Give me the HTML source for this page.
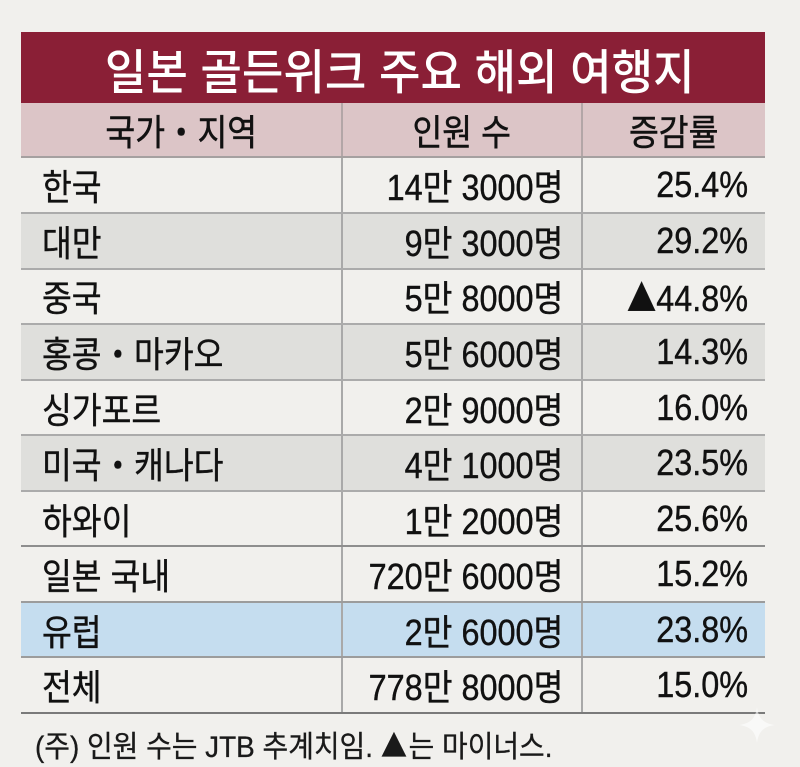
<!DOCTYPE html>
<html>
<head>
<meta charset="utf-8">
<style>
  html,body{margin:0;padding:0;}
  body{width:800px;height:767px;background:#f1f0ed;position:relative;overflow:hidden;
       font-family:"Liberation Sans","Noto Sans CJK KR",sans-serif;color:#111;}
  .abs{position:absolute;}
  .title{left:21px;top:32px;width:744px;height:71px;background:#8a1f36;}
  .title-txt{left:0;top:32px;width:800px;height:71px;display:flex;align-items:center;justify-content:center;
       color:#fff;font-size:48px;font-weight:500;}
  .title-txt span{display:inline-block;transform:scaleX(0.94);transform-origin:center;white-space:nowrap;}
  .hdr{left:21px;top:103px;width:744px;height:54px;background:#dcc5c7;}
  .hcell{top:103px;height:54px;display:flex;align-items:center;justify-content:center;font-size:36px;-webkit-text-stroke:0.5px #111;}
  .hcell span{display:inline-block;transform:scaleX(0.9);transform-origin:center;white-space:nowrap;}
  .row{left:21px;width:744px;height:56px;}
  .cell{height:56px;display:flex;align-items:center;font-size:36px;white-space:nowrap;-webkit-text-stroke:0.4px #111;}
  .c1{left:42px;width:290px;justify-content:flex-start;}
  .c1 span{display:inline-block;transform:scaleX(0.9);transform-origin:left center;}
  .c2{left:342px;width:221px;justify-content:flex-end;}
  .c3{left:582px;width:166px;justify-content:flex-end;}
  .c2 span,.c3 span{display:inline-block;transform:scaleX(0.9);transform-origin:right center;}
  .tri{font-family:"Noto Sans CJK KR",sans-serif;}
  .hl{left:21px;width:744px;height:2px;background:#ababab;}
  .vl{width:1.5px;background:#a9a9a9;}
  .note{left:35px;top:724px;height:40px;display:flex;align-items:center;font-size:30px;color:#1a1a1a;white-space:nowrap;-webkit-text-stroke:0.3px #1a1a1a;}
  .note span{display:inline-block;transform:scaleX(0.93);transform-origin:left center;}
</style>
</head>
<body>
  <div class="abs title"></div>
  <div class="abs title-txt"><span>일본 골든위크 주요 해외 여행지</span></div>
  <div class="abs hdr"></div>

  <!-- row backgrounds -->
  <div class="abs row" style="top:213px;background:#dfdfdc;"></div>
  <div class="abs row" style="top:324px;background:#dfdfdc;"></div>
  <div class="abs row" style="top:435px;background:#dfdfdc;"></div>
  <div class="abs row" style="top:602px;height:55px;background:#c5ddef;"></div>

  <!-- vertical lines -->
  <div class="abs vl" style="left:341px;top:103px;height:610px;background:#b3a6a7;"></div>
  <div class="abs vl" style="left:581px;top:103px;height:610px;background:#b3a6a7;"></div>
  <div class="abs vl" style="left:341px;top:157px;height:556px;"></div>
  <div class="abs vl" style="left:581px;top:157px;height:556px;"></div>

  <!-- horizontal lines -->
  <div class="abs hl" style="top:156px;background:#a5a0a0;"></div>
  <div class="abs hl" style="top:212px;"></div>
  <div class="abs hl" style="top:268px;"></div>
  <div class="abs hl" style="top:323px;"></div>
  <div class="abs hl" style="top:379px;"></div>
  <div class="abs hl" style="top:434px;"></div>
  <div class="abs hl" style="top:490px;"></div>
  <div class="abs hl" style="top:545px;background:#8e8e8e;"></div>
  <div class="abs hl" style="top:601px;background:#9c9c9c;"></div>
  <div class="abs hl" style="top:656px;background:#9c9c9c;"></div>
  <div class="abs hl" style="top:712px;height:2px;background:#7a7a7a;"></div>

  <!-- header text -->
  <div class="abs hcell" style="left:21px;width:321px;"><span>국가・지역</span></div>
  <div class="abs hcell" style="left:342px;width:240px;"><span>인원 수</span></div>
  <div class="abs hcell" style="left:582px;width:183px;"><span>증감률</span></div>

  <!-- data rows -->
  <div class="abs cell c1" style="top:157px;"><span>한국</span></div>
  <div class="abs cell c2" style="top:157px;"><span>14만 3000명</span></div>
  <div class="abs cell c3" style="top:157px;"><span>25.4%</span></div>

  <div class="abs cell c1" style="top:213px;"><span>대만</span></div>
  <div class="abs cell c2" style="top:213px;"><span>9만 3000명</span></div>
  <div class="abs cell c3" style="top:213px;"><span>29.2%</span></div>

  <div class="abs cell c1" style="top:268px;"><span>중국</span></div>
  <div class="abs cell c2" style="top:268px;"><span>5만 8000명</span></div>
  <div class="abs cell c3" style="top:268px;"><span><span class="tri">▲</span>44.8%</span></div>

  <div class="abs cell c1" style="top:324px;"><span>홍콩・마카오</span></div>
  <div class="abs cell c2" style="top:324px;"><span>5만 6000명</span></div>
  <div class="abs cell c3" style="top:324px;"><span>14.3%</span></div>

  <div class="abs cell c1" style="top:380px;"><span>싱가포르</span></div>
  <div class="abs cell c2" style="top:380px;"><span>2만 9000명</span></div>
  <div class="abs cell c3" style="top:380px;"><span>16.0%</span></div>

  <div class="abs cell c1" style="top:435px;"><span>미국・캐나다</span></div>
  <div class="abs cell c2" style="top:435px;"><span>4만 1000명</span></div>
  <div class="abs cell c3" style="top:435px;"><span>23.5%</span></div>

  <div class="abs cell c1" style="top:491px;"><span>하와이</span></div>
  <div class="abs cell c2" style="top:491px;"><span>1만 2000명</span></div>
  <div class="abs cell c3" style="top:491px;"><span>25.6%</span></div>

  <div class="abs cell c1" style="top:546px;"><span>일본 국내</span></div>
  <div class="abs cell c2" style="top:546px;"><span>720만 6000명</span></div>
  <div class="abs cell c3" style="top:546px;"><span>15.2%</span></div>

  <div class="abs cell c1" style="top:602px;"><span>유럽</span></div>
  <div class="abs cell c2" style="top:602px;"><span>2만 6000명</span></div>
  <div class="abs cell c3" style="top:602px;"><span>23.8%</span></div>

  <div class="abs cell c1" style="top:657px;"><span>전체</span></div>
  <div class="abs cell c2" style="top:657px;"><span>778만 8000명</span></div>
  <div class="abs cell c3" style="top:657px;"><span>15.0%</span></div>

  <!-- footnote -->
  <div class="abs note"><span>(주) 인원 수는 JTB 추계치임. <span class="tri">▲</span>는 마이너스.</span></div>

  <!-- sparkle -->
  <svg class="abs" style="left:739px;top:707px;" width="36" height="36" viewBox="0 0 38 38">
    <path d="M19 0 C20.5 12 26 17.5 38 19 C26 20.5 20.5 26 19 38 C17.5 26 12 20.5 0 19 C12 17.5 17.5 12 19 0 Z" fill="#ffffff" opacity="0.6"/>
  </svg>
</body>
</html>
